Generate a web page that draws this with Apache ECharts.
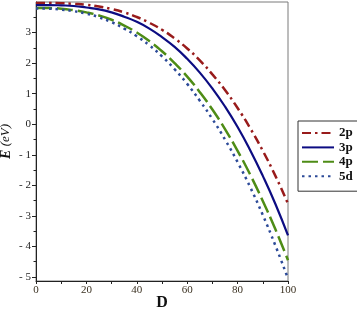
<!DOCTYPE html>
<html>
<head>
<meta charset="utf-8">
<script src="https://cdn.jsdelivr.net/npm/echarts@6/dist/echarts.min.js"></script>
<style>html,body{margin:0;padding:0;background:#fff}#c{width:357px;height:310px}</style>
</head>
<body>
<div id="c"></div>
<script>
const D = [0,5,10,15,20,25,30,35,40,45,50,55,60,65,70,75,80,85,90,95,100];
const e2p = [3.97,3.97,3.96,3.94,3.91,3.85,3.77,3.66,3.51,3.32,3.09,2.81,2.48,2.09,1.63,1.12,0.53,-0.13,-0.87,-1.69,-2.60];
const e3p = [3.90,3.90,3.89,3.87,3.82,3.76,3.66,3.52,3.35,3.13,2.85,2.53,2.14,1.69,1.17,0.58,-0.09,-0.85,-1.69,-2.61,-3.64];
const e4p = [3.80,3.80,3.78,3.73,3.66,3.56,3.42,3.23,3.00,2.72,2.39,2.00,1.56,1.05,0.48,-0.16,-0.87,-1.65,-2.51,-3.44,-4.45];
const e5d = [3.79,3.78,3.75,3.70,3.62,3.50,3.34,3.13,2.88,2.58,2.22,1.80,1.32,0.77,0.17,-0.50,-1.24,-2.06,-2.97,-3.97,-5.05];
const seriesNames = ['2p','3p','4p','5d'];
const yTicks = [-5,-4,-3,-2,-1,0,1,2,3];
const yMinorTicks = [-4.5,-3.5,-2.5,-1.5,-0.5,0.5,1.5,2.5,3.5];

const serif = 'Liberation Serif';
const pair = a => D.map((d,i)=>[d,a[i]]);
const chart = echarts.init(document.getElementById('c'));
chart.setOption({
  animation:false,
  backgroundColor:'#fff',
  grid:{left:36,right:69,top:2,bottom:29,show:true,borderColor:'#7a7a7a',borderWidth:1,
        containLabel:false,outerBoundsMode:'none'},
  legend:{
    orient:'vertical', left:298, top:121,
    padding:[5,8,8,3],
    itemWidth:32, itemHeight:10, itemGap:0.4,
    borderColor:'#333', borderWidth:1, backgroundColor:'#fff',
    itemStyle:{opacity:0},
    textStyle:{fontFamily:serif,fontWeight:'bold',fontSize:13,color:'#111',lineHeight:14},
    data:seriesNames
  },
  xAxis:{
    type:'value', min:0, max:100, interval:10,
    name:'D', nameLocation:'middle', nameGap:14, nameMoveOverlap:false,
    nameTextStyle:{fontFamily:serif,fontWeight:'bold',fontSize:16,color:'#111',verticalAlign:'top'},
    axisLine:{onZero:false,lineStyle:{color:'#222',width:1}},
    axisTick:{length:3,lineStyle:{color:'#222'}},
    axisLabel:{margin:4,fontFamily:serif,fontSize:11,color:'#3a3020',formatter:v=>v%20===0?String(v):''},
    splitLine:{show:false}
  },
  yAxis:[{
    type:'value', min:-5.13, max:4.0,
    name:'{b|E} {i|(eV)}', nameLocation:'middle', nameGap:23, nameMoveOverlap:false,
    nameTextStyle:{fontFamily:serif,fontSize:14,color:'#111',verticalAlign:'bottom',
      rich:{b:{fontFamily:serif,fontSize:14,fontStyle:'italic',fontWeight:'bold',color:'#111'},
            i:{fontFamily:serif,fontSize:13,fontStyle:'italic',color:'#111'}}},
    axisLine:{show:true,onZero:false,lineStyle:{color:'#222',width:1}},
    axisTick:{show:true,length:4,customValues:yTicks,lineStyle:{color:'#222'}},
    axisLabel:{margin:5,fontFamily:serif,fontSize:11,color:'#222',customValues:yTicks,
      formatter:v=>v<0?'- '+Math.abs(v):String(v)},
    splitLine:{show:false}
  },{
    type:'value', min:-5.13, max:4.0, position:'left',
    axisLine:{show:false,onZero:false},
    axisTick:{show:true,length:2.5,customValues:yMinorTicks,lineStyle:{color:'#222'}},
    axisLabel:{show:false},
    splitLine:{show:false}
  }],
  series:[
    {name:'2p',type:'line',smooth:true,symbol:'none',data:pair(e2p),
     lineStyle:{color:'#981b1b',width:2.5,type:[9,4,2.5,4]},itemStyle:{color:'#981b1b'}},
    {name:'3p',type:'line',smooth:true,symbol:'none',data:pair(e3p),
     lineStyle:{color:'#0c0c82',width:2.2,type:'solid'},itemStyle:{color:'#0c0c82'}},
    {name:'4p',type:'line',smooth:true,symbol:'none',data:pair(e4p),
     lineStyle:{color:'#4e8c16',width:2.5,type:[16,5]},itemStyle:{color:'#4e8c16'}},
    {name:'5d',type:'line',smooth:true,symbol:'none',data:pair(e5d),
     lineStyle:{color:'#2c4a98',width:2.5,type:[2.5,4]},itemStyle:{color:'#2c4a98'}}
  ]
});
</script>
</body>
</html>
